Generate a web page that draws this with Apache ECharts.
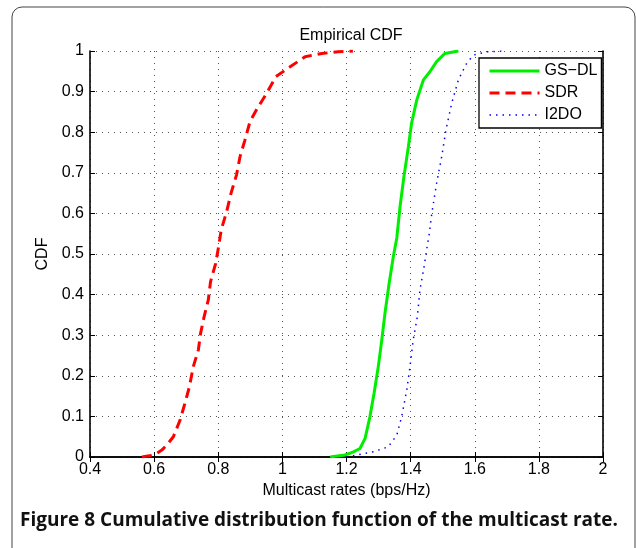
<!DOCTYPE html>
<html lang="en">
<head>
    <meta charset="UTF-8">
    <script type="text/javascript" src="https://cdn.jsdelivr.net/npm/echarts@6/dist/echarts.min.js"></script>
    <style>
        html, body { margin: 0; padding: 0; background: #fff; }
        #main { width: 636px; height: 548px; }
    </style>
</head>
<body>
    <div id="main"></div>
    <script type="text/javascript">
        // values
        var xTicks = [0.4, 0.6, 0.8, 1, 1.2, 1.4, 1.6, 1.8, 2];
        var yTicks = [0, 0.1, 0.2, 0.3, 0.4, 0.5, 0.6, 0.7, 0.8, 0.9, 1];

        var gsdlX = [1.149, 1.195, 1.22, 1.242, 1.258, 1.273, 1.286, 1.299, 1.31, 1.32, 1.333, 1.346, 1.357, 1.367, 1.379, 1.393, 1.403, 1.419, 1.44, 1.46, 1.481, 1.507, 1.549];
        var gsdlY = [0, 0.005, 0.012, 0.021, 0.046, 0.099, 0.157, 0.222, 0.288, 0.354, 0.428, 0.493, 0.54, 0.617, 0.69, 0.764, 0.822, 0.879, 0.929, 0.949, 0.974, 0.994, 1];

        var sdrX = [0.562, 0.59, 0.61, 0.624, 0.64, 0.66, 0.681, 0.696, 0.71, 0.722, 0.738, 0.745, 0.756, 0.769, 0.776, 0.792, 0.802, 0.809, 0.826, 0.84, 0.857, 0.868, 0.883, 0.899, 0.922, 0.951, 0.98, 1.024, 1.071, 1.123, 1.174, 1.22];
        var sdrY = [0, 0.004, 0.01, 0.017, 0.03, 0.05, 0.091, 0.132, 0.173, 0.222, 0.264, 0.305, 0.346, 0.387, 0.432, 0.477, 0.522, 0.559, 0.604, 0.65, 0.695, 0.74, 0.78, 0.826, 0.859, 0.896, 0.937, 0.961, 0.986, 0.994, 0.998, 1];

        var i2doX = [1.2, 1.232, 1.284, 1.33, 1.357, 1.372, 1.388, 1.398, 1.408, 1.421, 1.429, 1.442, 1.453, 1.457, 1.466, 1.481, 1.497, 1.51, 1.528, 1.549, 1.575, 1.596, 1.637, 1.69];
        var i2doY = [0, 0.005, 0.013, 0.025, 0.054, 0.099, 0.165, 0.222, 0.288, 0.346, 0.411, 0.469, 0.526, 0.543, 0.6, 0.674, 0.74, 0.805, 0.871, 0.929, 0.97, 0.99, 0.998, 1];

        function pairs(xs, ys) {
            var out = [];
            for (var i = 0; i < xs.length; i++) out.push([xs[i], ys[i]]);
            return out;
        }

        var font = 'Liberation Sans, Arial, sans-serif';
        var gridLine = { show: true, lineStyle: { color: '#555', width: 1, type: [1, 5] } };

        var myChart = echarts.init(document.getElementById('main'));
        var option = {
            animation: false,
            backgroundColor: '#fff',
            title: {
                text: 'Empirical CDF',
                left: 346, top: 23, textAlign: 'center',
                textStyle: { fontFamily: font, fontSize: 16, fontWeight: 'normal', color: '#000' }
            },
            grid: { left: 90, right: 33, top: 51, bottom: 91 },
            legend: {
                left: 479, top: 58,
                orient: 'vertical',
                padding: [5, 4, 5, 9],
                itemGap: 6,
                itemWidth: 50, itemHeight: 16,
                borderColor: '#000', borderWidth: 1.3,
                backgroundColor: '#fff',
                itemStyle: { opacity: 0 },
                textStyle: { fontFamily: font, fontSize: 16, color: '#000' },
                data: [
                    { name: 'GS\u2212DL', lineStyle: { width: 3 } },
                    { name: 'SDR', lineStyle: { width: 3, type: [10, 6] } },
                    { name: 'I2DO', lineStyle: { width: 1.5, type: [1.5, 5] } }
                ]
            },
            xAxis: [{
                type: 'value', min: 0.4, max: 2, interval: 0.2,
                name: 'Multicast rates (bps/Hz)', nameLocation: 'middle', nameGap: 26,
                nameTextStyle: { fontFamily: font, fontSize: 16, color: '#000' },
                axisLine: { lineStyle: { color: '#000', width: 1.6 } },
                axisTick: { inside: true, length: 5, lineStyle: { color: '#000' } },
                axisLabel: { fontFamily: font, fontSize: 16, color: '#000', margin: 5,
                    formatter: function (v) { return xTicks.indexOf(+v.toFixed(1)) >= 0 ? String(+v.toFixed(1)) : ''; } },
                splitLine: gridLine
            }, {
                type: 'value', min: 0.4, max: 2, interval: 0.2, position: 'top',
                axisLine: { show: true, lineStyle: { color: '#000', width: 1.6 } },
                axisTick: { inside: true, length: 5, lineStyle: { color: '#000' } },
                axisLabel: { show: false }, splitLine: { show: false }
            }],
            yAxis: [{
                type: 'value', min: 0, max: 1, interval: 0.1,
                name: 'CDF', nameLocation: 'middle', nameGap: 37,
                nameTextStyle: { fontFamily: font, fontSize: 16, color: '#000' },
                axisLine: { show: true, lineStyle: { color: '#000', width: 1.6 } },
                axisTick: { show: true, inside: true, length: 5, lineStyle: { color: '#000' } },
                axisLabel: { fontFamily: font, fontSize: 16, color: '#000', margin: 6,
                    formatter: function (v) { return yTicks.indexOf(+v.toFixed(1)) >= 0 ? String(+v.toFixed(1)) : ''; } },
                splitLine: gridLine
            }, {
                type: 'value', min: 0, max: 1, interval: 0.1, position: 'right',
                axisLine: { show: true, lineStyle: { color: '#000', width: 1.6 } },
                axisTick: { show: true, inside: true, length: 5, lineStyle: { color: '#000' } },
                axisLabel: { show: false }, splitLine: { show: false }
            }],
            series: [{
                name: 'GS\u2212DL', type: 'line', symbol: 'none', color: '#00ee00',
                lineStyle: { color: '#00ee00', width: 3 },
                data: pairs(gsdlX, gsdlY)
            }, {
                name: 'SDR', type: 'line', symbol: 'none', color: '#ff0000',
                lineStyle: { color: '#ff0000', width: 3, type: [10, 6] },
                data: pairs(sdrX, sdrY)
            }, {
                name: 'I2DO', type: 'line', symbol: 'none', color: '#0000ff',
                lineStyle: { color: '#0000ff', width: 1.5, type: [1.5, 5] },
                data: pairs(i2doX, i2doY)
            }],
            graphic: [{
                type: 'rect', z: -1,
                shape: { x: 12, y: 7, width: 623, height: 580, r: 10 },
                style: { fill: 'none', stroke: '#444', lineWidth: 1 }
            }, {
                type: 'text', left: 20, top: 511,
                style: {
                    text: 'Figure 8 Cumulative distribution function of the multicast rate.',
                    font: 'bold 19px "Open Sans", "Noto Sans", sans-serif',
                    fill: '#111'
                }
            }]
        };
        myChart.setOption(option);
    </script>
</body>
</html>
